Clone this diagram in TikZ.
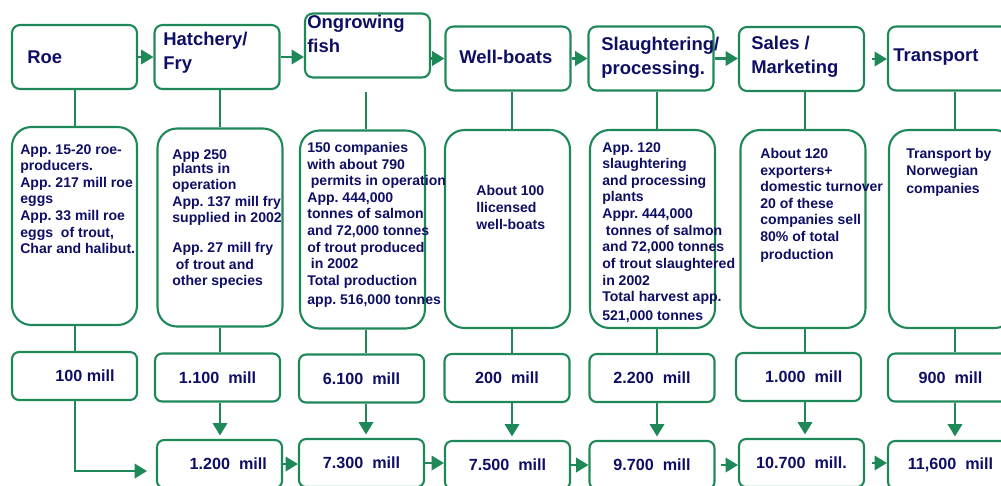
\documentclass[tikz,border=0pt]{standalone}
\usepackage{fontspec}
\setmainfont{Liberation Sans}
\usetikzlibrary{arrows.meta}

\definecolor{chainGreen}{RGB}{30,136,88}
\definecolor{chainNavy}{RGB}{14,14,100}

\begin{document}
\frenchspacing
\begin{tikzpicture}[
    x=0.02cm, y=-0.02cm,
    text=chainNavy,
    % Box styles
    stagebox/.style={draw=chainGreen, line width=1.2pt, rounded corners=4.5pt, minimum width=2.5cm, minimum height=1.28cm, inner sep=0pt},
    infobox/.style={draw=chainGreen, line width=1.2pt, rounded corners=11pt, minimum width=2.5cm, minimum height=3.96cm, inner sep=0pt},
    valbox/.style={draw=chainGreen, line width=1.2pt, rounded corners=4pt, minimum width=2.5cm, minimum height=0.96cm, inner sep=0pt,
        font=\fontsize{9.2}{11}\selectfont\bfseries},
    % Text styles
    stage/.style={font=\fontsize{10.5}{13.8}\selectfont\bfseries, align=left, anchor=west, inner sep=0pt},
    info/.style={font=\fontsize{8}{9.45}\selectfont\bfseries, align=left, anchor=north west, inner sep=0pt},
    % Connectors
    link/.style={draw=chainGreen, line width=1.2pt},
    flow/.style={link, -{Triangle[length=7pt, width=8.2pt]}},
]
    \useasboundingbox (0,0) rectangle (1001,485);
    \clip (0,0) rectangle (1001,485);

    % Columns
    \foreach \n/\x in {roe/75, hatch/220, grow/366, boat/512, slaughter/657, sales/805, transport/955} {
        \coordinate (\n Col) at (\x,0);
    }

    % Stage row
    \node[stagebox] (roeTop) at (74.5,57) {};
    \node[stagebox] (hatchTop) at (217,57) {};
    \node[stagebox] (growTop) at (367.5,45.5) {};
    \node[stagebox] (boatTop) at (508,58.5) {};
    \node[stagebox] (slaughterTop) at (651,58.5) {};
    \node[stagebox] (salesTop) at (801.5,59) {};
    \node[stagebox] (transportTop) at (950.5,58.5) {};

    \node[stage] (roeName) at (27,57) {Roe};
    \node[stage] (hatchName) at (163,53) {Hatchery/\\Fry};
    \node[stage] (growName) at (307,34) {Ongrowing\\fish};
    \node[stage] (boatName) at (459,57) {Well-boats};
    \node[stage] (slaughterName) at (601,57.5) {Slaughtering/\\processing.};
    \node[stage] (salesName) at (751,57) {Sales /\\Marketing};
    \node[stage] (transportName) at (893,57) {Transport};

    % Info row
    \node[infobox] (roeInfo) at (74.5,226) {};
    \node[infobox] (hatchInfo) at (220,227.5) {};
    \node[infobox] (growInfo) at (362.5,229.5) {};
    \node[infobox] (boatInfo) at (507.5,229) {};
    \node[infobox] (slaughterInfo) at (652.5,229) {};
    \node[infobox] (salesInfo) at (803,229) {};
    \node[infobox] (transportInfo) at (951.5,229) {};

    \node[info] (roeText) at (20,144) {App. 15-20 roe-\\producers.\\App. 217 mill roe\\eggs\\App. 33 mill roe\\eggs\ \ of trout,\\Char and halibut.};
    \node[info] (hatchText) at (172,149) {App 250\\[-1.5pt]plants in\\operation\\App. 137 mill fry\\supplied in 2002\\[7.5pt]App. 27 mill fry\\\hspace{2pt}of trout and\\other species};
    \node[info] (growText) at (307,142) {150 companies\\with about 790\\\hspace{2pt}permits in operation\\App. 444,000\\tonnes of salmon\\and 72,000 tonnes\\of trout produced\\\hspace{2pt}in 2002\\Total production\\[1.5pt]app. 516,000 tonnes};
    \node[info] (boatText) at (476,185) {About 100\\llicensed\\[0.6pt]well-boats};
    \node[info] (slaughterText) at (602,142) {App. 120\\slaughtering\\and processing\\plants\\Appr. 444,000\\\hspace{2pt}tonnes of salmon\\and 72,000 tonnes\\of trout slaughtered\\in 2002\\Total harvest app.\\[1.2pt]521,000 tonnes};
    \node[info] (salesText) at (760,148) {About 120\\exporters+\\domestic turnover\\20 of these\\companies sell\\80\% of total\\[0.8pt]production};
    \node[info] (transportText) at (906,148) {Transport by\\Norwegian\\[1pt]companies};

    % Value row
    \node[valbox] (roeVal) at (74.5,376) {\hspace{12pt}100 mill};
    \node[valbox] (hatchVal) at (217.5,377.5) {1.100\ \ mill};
    \node[valbox] (growVal) at (361.5,378.5) {6.100\ \ mill};
    \node[valbox] (boatVal) at (507,378) {200\ \ mill\hspace{8pt}};
    \node[valbox] (slaughterVal) at (652,378) {2.200\ \ mill\hspace{6pt}};
    \node[valbox] (salesVal) at (798.5,377) {\hspace{6pt}1.000\ \ mill};
    \node[valbox] (transportVal) at (950.5,377.5) {900\ \ mill\hspace{6pt}};

    % Sum row
    \node[valbox] (hatchSum) at (219.5,464) {\hspace{10pt}1.200\ \ mill};
    \node[valbox] (growSum) at (361.5,463) {7.300\ \ mill};
    \node[valbox] (boatSum) at (507.5,465) {7.500\ \ mill\hspace{6pt}};
    \node[valbox] (slaughterSum) at (652,465) {9.700\ \ mill\hspace{6pt}};
    \node[valbox] (salesSum) at (801.5,463) {10.700\ \ mill.};
    \node[valbox] (transportSum) at (950.5,465) {11,600\ \ mill\hspace{6pt}};

    % Stage arrows
    \draw[flow] (roeTop.east) -- (roeTop.east -| hatchTop.west);
    \draw[flow] (hatchTop.east) -- (hatchTop.east -| growTop.west);
    \draw[flow] (boatTop.west -| growTop.east) -- (boatTop.west);
    \draw[flow] (boatTop.east) -- (boatTop.east -| slaughterTop.west);
    \draw[flow] (slaughterTop.east) -- (slaughterTop.east -| salesTop.west);
    \draw[flow, shorten <=4pt] (salesTop.east) -- (salesTop.east -| transportTop.west);

    % Vertical links
    \coordinate (growGap) at (366,92);
    \draw[link] (growGap) -- (growCol |- growInfo.north);
    \foreach \n in {roe, hatch, boat, slaughter, sales, transport} {
        \draw[link] (\n Col |- \n Top.south) -- (\n Col |- \n Info.north);
    }
    \foreach \n in {roe, hatch, grow, boat, slaughter, sales, transport} {
        \draw[link] (\n Col |- \n Info.south) -- (\n Col |- \n Val.north);
    }
    \foreach \n in {hatch, grow, boat, slaughter, sales, transport} {
        \draw[flow, shorten >=2pt] (\n Col |- \n Val.south) -- (\n Col |- \n Sum.north);
    }

    % Roe into the sum row
    \coordinate (roeEnd) at (147,471);
    \draw[flow] (roeCol |- roeVal.south) |- (roeEnd);

    % Sum arrows
    \draw[flow] (hatchSum.east) -- (hatchSum.east -| growSum.west);
    \draw[flow] (growSum.east) -- (growSum.east -| boatSum.west);
    \draw[flow] (boatSum.east) -- (boatSum.east -| slaughterSum.west);
    \draw[flow, shorten <=3pt] (slaughterSum.east) -- (slaughterSum.east -| salesSum.west);
    \draw[flow, shorten <=4pt] (salesSum.east) -- (salesSum.east -| transportSum.west);

\end{tikzpicture}
\end{document}
